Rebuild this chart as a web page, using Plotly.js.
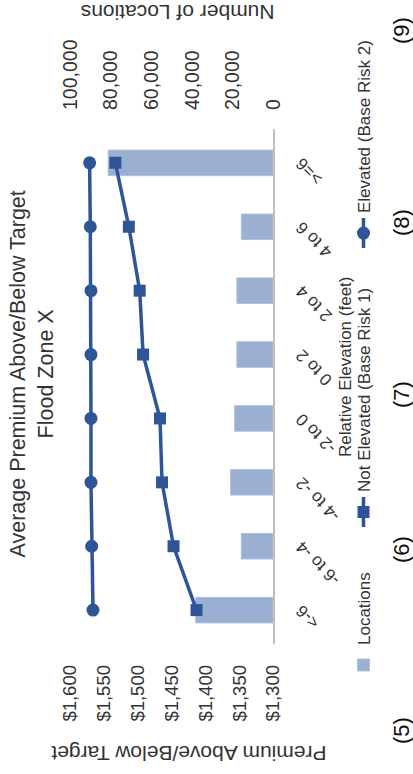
<!DOCTYPE html>
<html>
<head>
<meta charset="utf-8">
<script src="https://cdn.plot.ly/plotly-3.0.1.min.js"></script>
<style>
html, body { margin:0; padding:0; width:413px; height:774px; overflow:hidden; background:#fff; }
#chart { position:absolute; left:0; top:0; width:774px; height:413px; transform-origin:0 0; }
</style>
</head>
<body>
<div id="chart"></div>
<script>
// ---- data ----
const categories = ['<-6', '-6 to -4', '-4 to -2', '-2 to 0', '0 to 2', '2 to 4', '4 to 6', '>=6'];
const locations = [38100, 15600, 20900, 18900, 17800, 17800, 15600, 81200];
const notElevated = [1413, 1447, 1464, 1467, 1492, 1497, 1513, 1533];
const elevated = [1566, 1568, 1569, 1569, 1569, 1569, 1570, 1571];
const premiumTicks = [1300, 1350, 1400, 1450, 1500, 1550, 1600];
const premiumTickLabels = ['$1,300', '$1,350', '$1,400', '$1,450', '$1,500', '$1,550', '$1,600'];
const locationTicks = [0, 20000, 40000, 60000, 80000, 100000];
const locationTickLabels = ['0', '20,000', '40,000', '60,000', '80,000', '100,000'];
const figLabels = ['(5)', '(6)', '(7)', '(8)', '(9)'];
const figLabelX = [-0.167, 0.184, 0.4835, 0.819, 1.192];

const FONT = 'Liberation Sans, Arial, sans-serif';
const TXT = '#333333';
const BLUE = '#2E5597';

const traces = [
  {
    type: 'bar', name: 'Locations', x: categories, y: locations,
    xaxis: 'x', yaxis: 'y', legend: 'legend',
    marker: { color: '#9AAFD2', line: { color: '#AFC0DC', width: 1 } },
    hoverinfo: 'skip'
  },
  {
    type: 'scatter', mode: 'lines+markers', name: 'Not Elevated (Base Risk 1)',
    x: categories, y: notElevated, xaxis: 'x', yaxis: 'y2', legend: 'legend2',
    line: { color: BLUE, width: 3.5 },
    marker: { symbol: 'square', size: 12, color: BLUE },
    hoverinfo: 'skip'
  },
  {
    type: 'scatter', mode: 'lines+markers', name: 'Elevated (Base Risk 2)',
    x: categories, y: elevated, xaxis: 'x', yaxis: 'y2', legend: 'legend3',
    line: { color: BLUE, width: 3.5 },
    marker: { symbol: 'circle', size: 13, color: BLUE },
    hoverinfo: 'skip'
  }
];

const legendBase = {
  orientation: 'h', yanchor: 'middle', xanchor: 'left', y: -0.448,
  font: { family: FONT, size: 17, color: TXT },
  bgcolor: 'rgba(0,0,0,0)', borderwidth: 0
};

const annotations = [
  { text: 'Premium Above/Below Target', xref: 'paper', yref: 'paper', x: -0.2107, y: 0.4138,
    xanchor: 'center', yanchor: 'middle', textangle: -90, showarrow: false,
    font: { family: FONT, size: 21, color: TXT } },
  { text: 'Number of Locations', xref: 'paper', yref: 'paper', x: 1.2262, y: 0.473,
    xanchor: 'center', yanchor: 'middle', textangle: -90, showarrow: false,
    font: { family: FONT, size: 21, color: TXT } },
  { text: 'Relative Elevation (feet)', xref: 'paper', yref: 'paper', x: 0.538, y: -0.3547,
    xanchor: 'center', yanchor: 'middle', showarrow: false,
    font: { family: FONT, size: 17, color: TXT } }
];
figLabels.forEach((t, i) => annotations.push({
  text: t, xref: 'paper', yref: 'paper', x: figLabelX[i], y: -0.635,
  xanchor: 'center', yanchor: 'middle', showarrow: false,
  font: { family: FONT, size: 22, color: '#111' }
}));

const layout = {
  width: 774, height: 413,
  margin: { l: 130, r: 129, t: 70, b: 140, autoexpand: false },
  paper_bgcolor: '#fff', plot_bgcolor: '#fff',
  font: { family: FONT, color: TXT },
  title: {
    text: 'Average Premium Above/Below Target<br>Flood Zone X',
    xref: 'container', yref: 'container', x: 0.517, y: 0.94,
    xanchor: 'center', yanchor: 'top',
    font: { family: FONT, size: 21.5, color: TXT }
  },
  bargap: 0.6,
  showlegend: true,
  legend: Object.assign({}, legendBase, { x: -0.0796 }),
  legend2: Object.assign({}, legendBase, { x: 0.2175 }),
  legend3: Object.assign({}, legendBase, { x: 0.759 }),
  xaxis: {
    type: 'category', tickangle: -45, showgrid: false, zeroline: false,
    showline: true, linecolor: '#BFBFBF', linewidth: 2, ticks: '',
    tickfont: { family: FONT, size: 17, color: TXT }, ticklabelstandoff: 10,
    automargin: false
  },
  yaxis: {
    side: 'right', range: [0, 100000], tickmode: 'array',
    tickvals: locationTicks, ticktext: locationTickLabels,
    showgrid: false, zeroline: false, showline: false, ticks: '',
    tickfont: { family: FONT, size: 19.5, color: TXT }, ticklabelstandoff: 18,
    automargin: false
  },
  yaxis2: {
    side: 'left', overlaying: 'y', range: [1300, 1600], tickmode: 'array',
    tickvals: premiumTicks, ticktext: premiumTickLabels,
    showgrid: false, zeroline: false, showline: false, ticks: '',
    tickfont: { family: FONT, size: 18.5, color: TXT }, ticklabelstandoff: 20,
    automargin: false
  },
  annotations: annotations,
  hovermode: false
};

Plotly.newPlot('chart', traces, layout, { staticPlot: true, displayModeBar: false }).then(() => {
  document.getElementById('chart').style.transform = 'translate(0px, 774px) rotate(-90deg)';
});
</script>
</body>
</html>
